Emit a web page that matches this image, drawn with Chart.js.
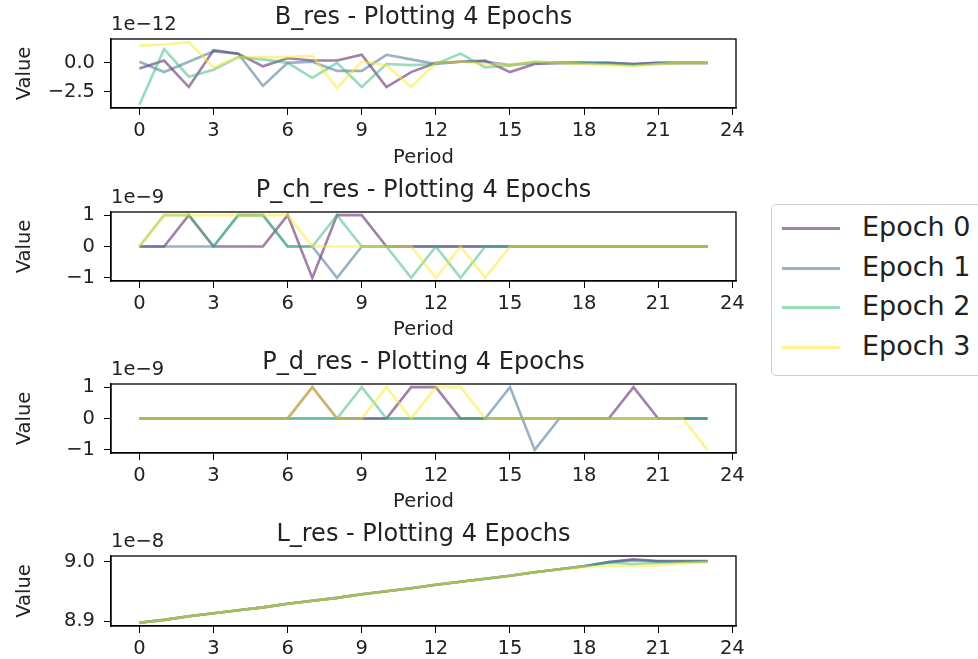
<!DOCTYPE html>
<html>
<head>
<meta charset="utf-8">
<script src="https://cdn.jsdelivr.net/npm/chart.js@4.4.1/dist/chart.umd.min.js"></script>
<style>
  body { margin: 0; width: 978px; height: 659px; overflow: hidden; background: #fff; position: relative; font-family: "DejaVu Sans", sans-serif; }
  canvas { position: absolute; left: 0; }
  #legend { position: absolute; left: 771px; top: 204px; width: 240px; height: 172px; border: 1px solid #d0d0d0; border-radius: 5px; box-sizing: border-box; background: #fff; }
  .row { position: absolute; left: 0; height: 40px; width: 240px; }
  .row span.line { position: absolute; left: 10px; top: 20px; width: 58px; height: 3px; }
  .row span.txt { position: absolute; left: 90px; top: 0; font-size: 27px; line-height: 40px; color: #222; white-space: nowrap; }
</style>
</head>
<body>
<canvas id="c1" width="760" height="172" style="top:0px"></canvas>
<canvas id="c2" width="760" height="172" style="top:172px"></canvas>
<canvas id="c3" width="760" height="172" style="top:344px"></canvas>
<canvas id="c4" width="760" height="143" style="top:516px"></canvas>
<div id="legend"></div>
<script>
const periods = [0,1,2,3,4,5,6,7,8,9,10,11,12,13,14,15,16,17,18,19,20,21,22,23];
const periodTicks = [0,3,6,9,12,15,18,21,24];
const epochNames = ["Epoch 0", "Epoch 1", "Epoch 2", "Epoch 3"];
const epochColors = ["rgba(68,1,84,0.5)", "rgba(49,104,142,0.5)", "rgba(53,183,121,0.5)", "rgba(253,231,37,0.5)"];

// B_res (x 1e-12)
const bRes0 = [-0.5, 0.2, -2.1, 1.1, 0.8, -0.3, 0.4, 0.2, 0.2, 0.7, -2.1, -0.8, 0.0, 0.1, 0.2, -0.8, -0.1, 0.0, 0.0, 0.0, -0.1, 0.0, 0.0, 0.0];
const bRes1 = [0.1, -0.8, 0.1, 1.0, 0.8, -2.0, 0.0, 0.1, -0.7, -0.7, 0.7, 0.3, -0.1, 0.1, 0.1, -0.2, 0.0, 0.0, 0.0, 0.0, -0.1, 0.0, 0.0, 0.0];
const bRes2 = [-3.65, 1.2, -1.2, -0.6, 0.5, 0.3, 0.0, -1.3, 0.0, -2.1, -0.1, -0.2, -0.1, 0.8, -0.4, -0.2, 0.1, 0.0, 0.0, -0.1, -0.2, -0.1, 0.0, 0.0];
const bRes3 = [1.5, 1.6, 1.8, -0.4, 0.5, 0.5, 0.5, 0.6, -2.2, 0.1, -0.2, -2.1, 0.0, 0.1, -0.1, -0.2, 0.1, 0.0, -0.1, -0.2, -0.3, -0.1, 0.0, 0.0];
const bResTicks = [-2.5, 0];
const bResTickLabels = ["\u22122.5", "0.0"];

// P_ch_res (x 1e-9)
const pChRes0 = [0,0,1,0,0,0,1,-1,1,1,0,0,0,0,0,0,0,0,0,0,0,0,0,0];
const pChRes1 = [0,0,0,0,1,1,0,0,-1,0,0,0,0,0,0,0,0,0,0,0,0,0,0,0];
const pChRes2 = [0,1,1,0,1,1,0,0,1,0,0,-1,0,-1,0,0,0,0,0,0,0,0,0,0];
const pChRes3 = [0,1,1,1,1,1,1,0,0,0,0,0,-1,0,-1,0,0,0,0,0,0,0,0,0];

// P_d_res (x 1e-9)
const pDRes0 = [0,0,0,0,0,0,0,1,0,0,0,1,1,0,0,0,0,0,0,0,1,0,0,0];
const pDRes1 = [0,0,0,0,0,0,0,0,0,0,0,0,0,0,0,1,-1,0,0,0,0,0,0,0];
const pDRes2 = [0,0,0,0,0,0,0,0,0,1,0,0,0,0,0,0,0,0,0,0,0,0,0,0];
const pDRes3 = [0,0,0,0,0,0,0,1,0,0,1,0,1,1,0,0,0,0,0,0,0,0,0,-1];
const unitTicks = [-1, 0, 1];
const unitTickLabels = ["\u22121", "0", "1"];

// L_res (x 1e-8)
const lRes0 = [8.897,8.902,8.908,8.913,8.918,8.923,8.929,8.934,8.939,8.945,8.950,8.955,8.961,8.966,8.971,8.976,8.982,8.987,8.992,8.999,9.004,9.001,9.001,9.001];
const lRes1 = [8.897,8.902,8.908,8.913,8.918,8.923,8.929,8.934,8.939,8.945,8.950,8.955,8.961,8.966,8.971,8.976,8.982,8.987,8.992,8.999,9.002,9.000,9.000,9.000];
const lRes2 = [8.897,8.902,8.908,8.913,8.918,8.923,8.929,8.934,8.939,8.945,8.950,8.955,8.961,8.966,8.971,8.976,8.982,8.987,8.992,8.998,8.996,8.998,8.999,9.000];
const lRes3 = [8.897,8.902,8.908,8.913,8.918,8.923,8.929,8.934,8.939,8.945,8.950,8.955,8.961,8.966,8.971,8.976,8.982,8.987,8.991,8.993,8.992,8.994,8.997,8.999];
const lResTicks = [8.9, 9.0];
const lResTickLabels = ["8.9", "9.0"];

const FONT = "'DejaVu Sans', sans-serif";
const TICK_SIZE = 19.5;
const LEFT = 111; // plot box left edge

// box around the plot + the "1e-N" offset text
const framePlugin = {
  id: "frame",
  afterDraw(chart, args, opts) {
    const a = chart.chartArea;
    const ctx = chart.ctx;
    ctx.save();
    ctx.strokeStyle = "#000";
    ctx.lineWidth = 1.3;
    ctx.strokeRect(a.left, a.top, a.right - a.left, a.bottom - a.top);
    ctx.fillStyle = "#222";
    ctx.font = TICK_SIZE + "px " + FONT;
    ctx.textAlign = "left";
    ctx.textBaseline = "alphabetic";
    ctx.fillText(opts.offset, a.left, a.top - 9);
    ctx.restore();
  }
};

const measureCtx = document.createElement("canvas").getContext("2d");
function widest(labels) {
  measureCtx.font = "normal " + TICK_SIZE + "px " + FONT;
  return Math.max(...labels.map((t) => measureCtx.measureText(t).width));
}

function makeChart(id, title, offset, series, yTicks, yLabels, showPeriod, padTop, xHeight) {
  let lo = Math.min(...series.flat());
  let hi = Math.max(...series.flat());
  const m = (hi - lo) * 0.05;
  // make the y axis naturally LEFT px wide: tick 7 + pad 9 + labels + title
  const titleLH = TICK_SIZE * 1.2;
  const titleTop = 13.3;
  const titleBottom = Math.max(0, LEFT - 16 - widest(yLabels) - titleLH - titleTop);
  return new Chart(document.getElementById(id), {
    type: "line",
    data: {
      datasets: series.map((vals, i) => ({
        label: epochNames[i],
        data: periods.map((p, j) => ({ x: p, y: vals[j] })),
        borderColor: epochColors[i],
        backgroundColor: epochColors[i],
        borderWidth: 2.6,
        pointRadius: 0,
        tension: 0,
        fill: false,
        order: 3 - i,
      })),
    },
    plugins: [framePlugin],
    options: {
      responsive: false,
      animation: false,
      layout: { padding: { left: 0, right: 24, top: padTop, bottom: 0 } },
      plugins: {
        legend: { display: false },
        tooltip: { enabled: false },
        frame: { offset: offset },
        title: {
          display: true,
          text: title,
          fullSize: false,
          color: "#222",
          font: { family: FONT, size: 24, weight: "normal" },
          padding: { top: 3.6, bottom: 6.6 },
        },
      },
      scales: {
        x: {
          type: "linear",
          min: -1.15,
          max: 24.15,
          afterBuildTicks: (s) => { s.ticks = periodTicks.map((v) => ({ value: v })); },
          afterFit: (s) => { s.height = xHeight; },
          grid: { display: true, drawOnChartArea: false, drawTicks: true, tickLength: 7, color: "#000" },
          border: { display: true, color: "#000", width: 1.3 },
          ticks: { color: "#222", padding: 4, maxRotation: 0, font: { family: FONT, size: TICK_SIZE } },
          title: {
            display: showPeriod,
            text: "Period",
            color: "#222",
            font: { family: FONT, size: TICK_SIZE },
            padding: { top: 0, bottom: 2.3 },
          },
        },
        y: {
          min: lo - m,
          max: hi + m,
          afterBuildTicks: (s) => { s.ticks = yTicks.map((v) => ({ value: v })); },
          afterFit: (s) => { s.width = LEFT; },
          grid: { display: true, drawOnChartArea: false, drawTicks: true, tickLength: 7, color: "#000" },
          border: { display: true, color: "#000", width: 1.3 },
          ticks: { color: "#222", padding: 9, font: { family: FONT, size: TICK_SIZE }, callback: (v, i) => yLabels[i] },
          title: {
            display: true,
            text: "Value",
            color: "#222",
            font: { family: FONT, size: TICK_SIZE },
            padding: { top: titleTop, bottom: titleBottom },
          },
        },
      },
    },
  });
}

makeChart("c1", "B_res - Plotting 4 Epochs", "1e\u221212", [bRes0, bRes1, bRes2, bRes3], bResTicks, bResTickLabels, true, 0, 64);
makeChart("c2", "P_ch_res - Plotting 4 Epochs", "1e\u22129", [pChRes0, pChRes1, pChRes2, pChRes3], unitTicks, unitTickLabels, true, 1, 63);
makeChart("c3", "P_d_res - Plotting 4 Epochs", "1e\u22129", [pDRes0, pDRes1, pDRes2, pDRes3], unitTicks, unitTickLabels, true, 1, 63);
makeChart("c4", "L_res - Plotting 4 Epochs", "1e\u22128", [lRes0, lRes1, lRes2, lRes3], lResTicks, lResTickLabels, false, 1, 33);

// legend on the right, shared by all four plots
const legend = document.getElementById("legend");
epochNames.forEach((name, i) => {
  const row = document.createElement("div");
  row.className = "row";
  row.style.top = (2 + i * 39.7) + "px";
  row.innerHTML = '<span class="line" style="background:' + epochColors[i] + '"></span><span class="txt">' + name + "</span>";
  legend.appendChild(row);
});
</script>
</body>
</html>
